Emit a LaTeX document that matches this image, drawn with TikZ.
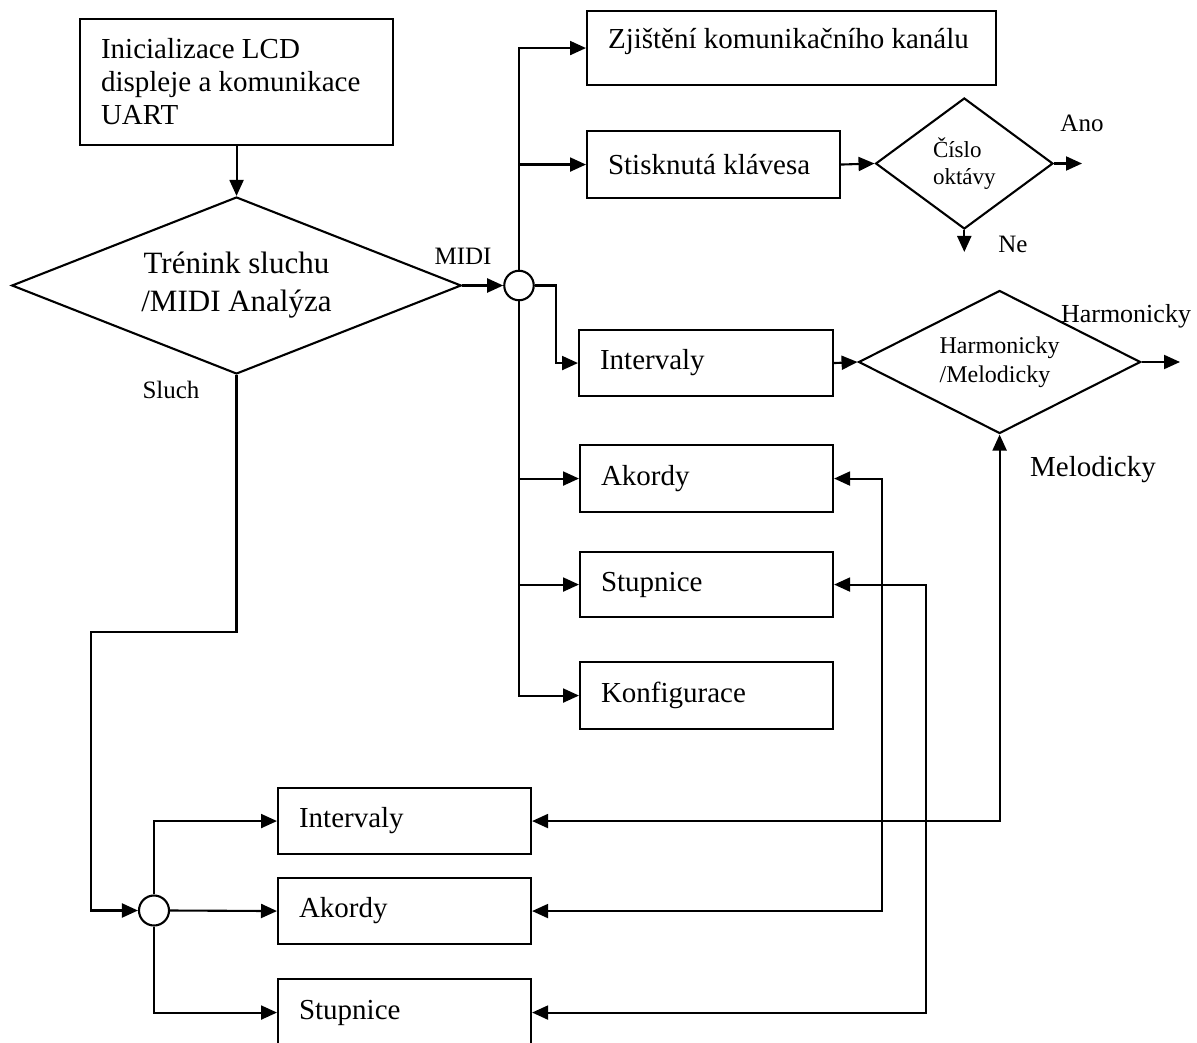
\documentclass[tikz,border=0pt]{standalone}
\usepackage{fontspec}
\setmainfont{Liberation Serif}
\usetikzlibrary{arrows.meta,shapes.geometric}
\newcommand\fsz[2]{\fontsize{#1}{#2}\selectfont}

\begin{document}
\begin{tikzpicture}[x=1pt,y=-1pt,line width=2.1pt,
  >={Triangle[length=16pt,width=14pt]},
  box/.style={draw, rectangle, anchor=north west, align=flush left, inner xsep=21pt,
    inner ysep=0pt, text width=211pt, font=\fsz{29}{33}},
  dec/.style={draw, diamond, inner sep=0pt},
  junc/.style={draw, circle, inner sep=0pt, fill=white},
  lbl/.style={anchor=base, inner sep=0pt, font=\fsz{25}{30}}]

\useasboundingbox (0,0) rectangle (1197,1043);
\clip (0,0) rectangle (1197,1043);

% process boxes
\node[box, text width=271pt, minimum height=126pt] (init) at (79,18)
  {Inicializace LCD\\displeje a komunikace\\UART};
\node[box, text width=367pt, minimum height=74pt, text height=20pt, text depth=20pt] (zj) at (586,10)
  {Zjištění komunikačního kanálu};
\node[box, minimum height=67pt] (stisk) at (586,130) {Stisknutá klávesa};
\node[box, text width=212pt, minimum height=66pt] (iv1) at (578,329) {Intervaly};
\node[box, minimum height=67pt] (ak1) at (579,444) {Akordy};
\node[box, minimum height=65pt] (st1) at (579,551) {Stupnice};
\node[box, minimum height=67pt] (kf) at (579,661) {Konfigurace};
\node[box, minimum height=66pt] (iv2) at (277,787) {Intervaly};
\node[box, minimum height=66pt] (ak2) at (277,877) {Akordy};
\node[box, minimum height=67pt] (st2) at (277,978) {Stupnice};

% decisions
\node[dec, minimum width=449.5pt, minimum height=177pt, shape aspect=2.54,
  font=\fsz{31}{38}, align=center] (mode) at (236.5,285.5) {Trénink sluchu\\/MIDI Analýza};
\node[dec, minimum width=177.4pt, minimum height=131pt, shape aspect=1.354,
  font=\fsz{23}{27}, align=flush left] (oct) at (964.3,163.5) {Číslo\\oktávy};
\node[dec, minimum width=282pt, minimum height=143pt, shape aspect=1.97,
  font=\fsz{24}{29}, align=flush left] (hm) at (999.6,362) {Harmonicky\\/Melodicky};

% junctions
\node[junc, minimum size=29.5pt] (j1) at (519,285.5) {};
\node[junc, minimum size=30pt] (j2) at (154,910.5) {};

% free ends
\coordinate (anoend) at (1082,163.5);
\coordinate (neend) at (964.3,252);
\coordinate (harmend) at (1180,362);
\coordinate (bend) at (91,632);

% main flow
\draw[->] (init.south) -- (init.south |- mode.north);
\draw[->] (mode.east) -- (j1.west);
\draw[->] (j1.north) |- (zj.west);
\draw[->] (j1.north) |- (stisk.west);
\draw[->] (j1.east) -- ++(21,0) |- (iv1.west);
\draw[->] (j1.south) |- (ak1.west);
\draw[->] (j1.south) |- (st1.west);
\draw[->] (j1.south) |- (kf.west);
\draw[->] (stisk.east) -- (oct.west);
\draw[->] (oct.east) -- (anoend);
\draw[->] (oct.south) -- (neend);
\draw[->] (iv1.east) -- (hm.west);
\draw[->] (hm.east) -- (harmend);
\draw[->] (mode.south) |- (bend) |- (j2.west);
\draw[->] (j2.north) |- (iv2.west);
\draw[->] (j2.east) -- (ak2.west);
\draw[->] (j2.south) |- (st2.west);

% links between the two groups
\draw[<->] (iv2.east) -| (hm.south);
\draw[<->] (ak1.east) -- ++(48,0) |- (ak2.east);
\draw[<->] (st1.east) -- ++(92,0) |- (st2.east);

% labels
\node[lbl] (midi) at (463,265) {MIDI};
\node[lbl] (sluch) at (171,398) {Sluch};
\node[lbl] (ano) at (1082,132) {Ano};
\node[lbl] (ne) at (1013,252) {Ne};
\node[lbl, font=\fsz{26}{30}] (harm) at (1126,322) {Harmonicky};
\node[lbl, font=\fsz{29}{33}] (melo) at (1093,476) {Melodicky};
\end{tikzpicture}
\end{document}
